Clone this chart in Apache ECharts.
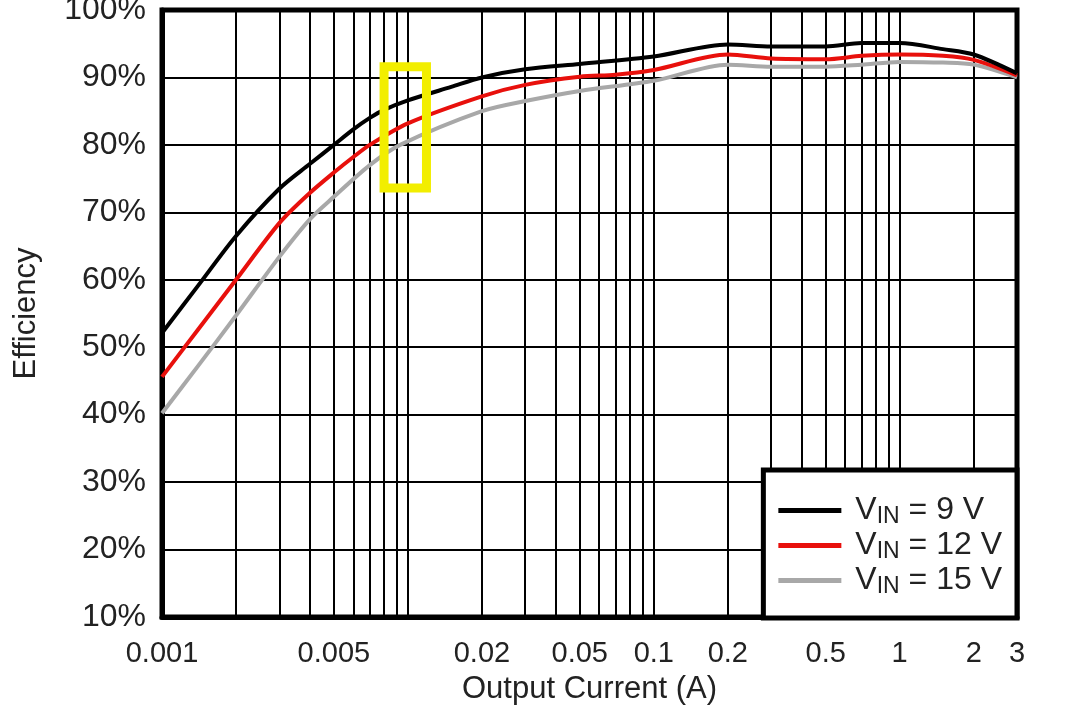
<!DOCTYPE html>
<html>
<head>
<meta charset="utf-8">
<script src="https://cdn.jsdelivr.net/npm/echarts@6/dist/echarts.min.js"></script>
<style>html,body{margin:0;padding:0;background:#fff;}#c{width:1080px;height:707px;}</style>
</head>
<body>
<div id="c"></div>
<script>
// Output current (A) and efficiency (%)
const current9 = [0.001, 0.0014, 0.002, 0.003, 0.004, 0.005, 0.006, 0.007, 0.008, 0.01, 0.015, 0.02, 0.03, 0.05, 0.1, 0.2, 0.3, 0.5, 0.7, 1, 1.5, 2, 3];
const eff9     = [52.1, 59.1, 66.5, 73.5, 77.2, 80.0, 82.3, 84.0, 85.2, 86.6, 88.6, 90.0, 91.2, 92.0, 93.1, 94.9, 94.6, 94.6, 95.1, 95.1, 94.2, 93.4, 90.6];
const current12 = [0.001, 0.0014, 0.002, 0.003, 0.004, 0.005, 0.006, 0.007, 0.01, 0.02, 0.03, 0.05, 0.07, 0.1, 0.2, 0.3, 0.5, 0.7, 1, 1.5, 2, 3];
const eff12     = [45.6, 52.6, 60.0, 68.4, 72.9, 75.9, 78.2, 80.0, 83.2, 87.2, 88.9, 90.1, 90.4, 91.1, 93.4, 92.8, 92.7, 93.2, 93.4, 93.2, 92.6, 90.3];
const current15 = [0.001, 0.0014, 0.002, 0.003, 0.004, 0.005, 0.007, 0.0093, 0.02, 0.03, 0.05, 0.1, 0.2, 0.3, 0.5, 0.7, 1, 1.5, 2, 3];
const eff15     = [40.2, 47.2, 54.7, 63.4, 69.0, 72.3, 77.0, 80.0, 85.0, 86.5, 88.0, 89.5, 91.9, 91.6, 91.6, 91.9, 92.3, 92.2, 91.9, 90.0];

const seriesNames = ['VIN = 9 V', 'VIN = 12 V', 'VIN = 15 V'];
const legendText = {'VIN = 9 V': ' = 9 V', 'VIN = 12 V': ' = 12 V', 'VIN = 15 V': ' = 15 V'};

const xLabelValues = [0.001, 0.005, 0.02, 0.05, 0.1, 0.2, 0.5, 1, 2, 3];
const xGridValues = [0.001, 0.002, 0.003, 0.004, 0.005, 0.006, 0.007, 0.008, 0.009,
                     0.01, 0.02, 0.03, 0.04, 0.05, 0.06, 0.07, 0.08, 0.09,
                     0.1, 0.2, 0.3, 0.4, 0.5, 0.6, 0.7, 0.8, 0.9, 1, 2, 3];
// highlight box [current, efficiency] corners
const highlightBox = [[0.008, 91.6], [0.0119, 73.6]];

function pairs(xs, ys) { return xs.map((x, i) => [x, ys[i]]); }

const chart = echarts.init(document.getElementById('c'), null, {renderer: 'canvas'});
const font = 'Liberation Sans, Arial, sans-serif';
chart.setOption({
  animation: false,
  backgroundColor: '#fff',
  grid: {left: 162, right: 63, top: 10, bottom: 90, show: true, borderColor: '#000', borderWidth: 5,
    backgroundColor: '#fff', containLabel: false, outerBoundsMode: 'none'},
  xAxis: {
    type: 'log', logBase: 10, min: 0.001, max: 3,
    name: 'Output Current (A)', nameLocation: 'middle', nameGap: 57,
    nameTextStyle: {fontFamily: font, fontSize: 31, color: '#222'},
    axisLine: {show: true, lineStyle: {color: '#000', width: 5}},
    axisTick: {show: false, customValues: xGridValues},
    axisLabel: {customValues: xLabelValues, fontFamily: font, fontSize: 29, color: '#222', margin: 22,
      formatter: v => String(+v.toPrecision(3))},
    splitLine: {show: true, lineStyle: {color: '#000', width: 2}},
    minorSplitLine: {show: false}
  },
  yAxis: {
    type: 'value', min: 10, max: 100, interval: 10,
    name: 'Efficiency', nameLocation: 'middle', nameGap: 120, nameRotate: 90,
    nameTextStyle: {fontFamily: font, fontSize: 31, color: '#222'},
    axisLine: {show: true, lineStyle: {color: '#000', width: 5}},
    axisTick: {show: false},
    axisLabel: {formatter: '{value}%', fontFamily: font, fontSize: 32, color: '#222', margin: 16},
    splitLine: {show: true, lineStyle: {color: '#000', width: 2}}
  },
  legend: {
    orient: 'vertical', right: 63, top: 470,
    data: seriesNames,
    backgroundColor: '#fff', borderColor: '#000', borderWidth: 5,
    padding: [23, 15, 20, 15],
    itemGap: 0, itemWidth: 63, itemHeight: 5, icon: 'rect',
    formatter: n => '{v|V}{s|IN}{v|' + legendText[n] + '}',
    textStyle: {fontFamily: font, fontSize: 32, color: '#222', padding: [0, 0, 0, 9],
      rich: {
        v: {fontFamily: font, fontSize: 32, color: '#222', lineHeight: 32},
        s: {fontFamily: font, fontSize: 23, color: '#222', lineHeight: 20, padding: [12, 0, 0, 0]}
      }
    }
  },
  series: [
    {name: seriesNames[0], type: 'line', data: pairs(current9, eff9), smooth: 0.3, showSymbol: false,
      lineStyle: {color: '#000', width: 4}, itemStyle: {color: '#000'}, z: 5},
    {name: seriesNames[1], type: 'line', data: pairs(current12, eff12), smooth: 0.3, showSymbol: false,
      lineStyle: {color: '#e8100c', width: 4}, itemStyle: {color: '#e8100c'}, z: 4},
    {name: seriesNames[2], type: 'line', data: pairs(current15, eff15), smooth: 0.3, showSymbol: false,
      lineStyle: {color: '#a8a8a8', width: 4}, itemStyle: {color: '#a8a8a8'}, z: 3,
      markArea: {silent: true, z: 10,
        itemStyle: {color: 'rgba(0,0,0,0)', borderColor: '#f2ee00', borderWidth: 9},
        data: [[{coord: highlightBox[0]}, {coord: highlightBox[1]}]]}}
  ]
});
</script>
</body>
</html>
